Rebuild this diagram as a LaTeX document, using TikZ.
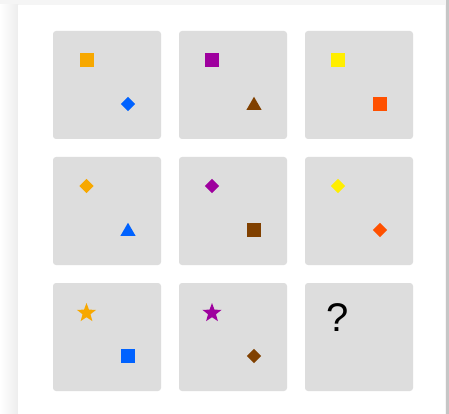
\documentclass[tikz,border=0pt]{standalone}
\usepackage{fontspec}
\setmainfont{Liberation Sans}
\usetikzlibrary{shapes.geometric}
\definecolor{PanelGrey}{HTML}{DDDDDD}
\definecolor{Amber}{HTML}{F7A800}
\definecolor{Azure}{HTML}{0062FF}
\definecolor{Plum}{HTML}{9E009E}
\definecolor{Lemon}{HTML}{FFEE00}
\definecolor{Blaze}{HTML}{FF5000}
\definecolor{Umber}{HTML}{804000}

\begin{document}
\begin{tikzpicture}[
    x=1pt,y=-1pt,
    panel/.style={draw=none,fill=PanelGrey,rounded corners=3pt,minimum size=108pt,inner sep=0pt},
    sq/.style={rectangle,minimum size=14pt,inner sep=0pt},
    dia/.style={diamond,minimum size=14.5pt,inner sep=0pt},
    tri/.style={regular polygon,regular polygon sides=3,minimum size=17.5pt,inner sep=0pt},
    starshape/.style={star,star points=5,star point ratio=2.4,minimum size=20pt,inner sep=0pt}
  ]
  \useasboundingbox (0,0) rectangle (449,414);
  % page and card
  \fill[gray!8] (0,0) rectangle (449,414);
  \shade[left color=white,right color=gray!14] (0,5) rectangle (18,414);
  \fill[white] (18,5) rectangle (445,414);
  \fill[gray!45] (446,0) rectangle (449,414);

  % panels
  \node[panel] (p11) at (107,85) {};
  \node[panel] (p12) at (233,85) {};
  \node[panel] (p13) at (359,85) {};
  \node[panel] (p21) at (107,211) {};
  \node[panel] (p22) at (233,211) {};
  \node[panel] (p23) at (359,211) {};
  \node[panel] (p31) at (107,337) {};
  \node[panel] (p32) at (233,337) {};
  \node[panel] (p33) at (359,337) {};

  % row 1
  \node[sq,fill=Amber] (a11) at (86.5,60) {};
  \node[dia,fill=Azure] (b11) at (128,104) {};
  \node[sq,fill=Plum] (a12) at (212,60) {};
  \node[tri,fill=Umber] (b12) at (254,105.5) {};
  \node[sq,fill=Lemon] (a13) at (338,60) {};
  \node[sq,fill=Blaze] (b13) at (380,104) {};

  % row 2
  \node[dia,fill=Amber] (a21) at (86.5,186) {};
  \node[tri,fill=Azure] (b21) at (128,231.5) {};
  \node[dia,fill=Plum] (a22) at (212,186) {};
  \node[sq,fill=Umber] (b22) at (254,230) {};
  \node[dia,fill=Lemon] (a23) at (338,186) {};
  \node[dia,fill=Blaze] (b23) at (380,230) {};

  % row 3
  \node[starshape,fill=Amber] (a31) at (86.5,313) {};
  \node[sq,fill=Azure] (b31) at (128,356) {};
  \node[starshape,fill=Plum] (a32) at (212,313) {};
  \node[dia,fill=Umber] (b32) at (254,356) {};
  \node[font=\fontsize{40}{40}\selectfont,inner sep=0pt] (q33) at (338,317.5) {?};
\end{tikzpicture}
\end{document}
